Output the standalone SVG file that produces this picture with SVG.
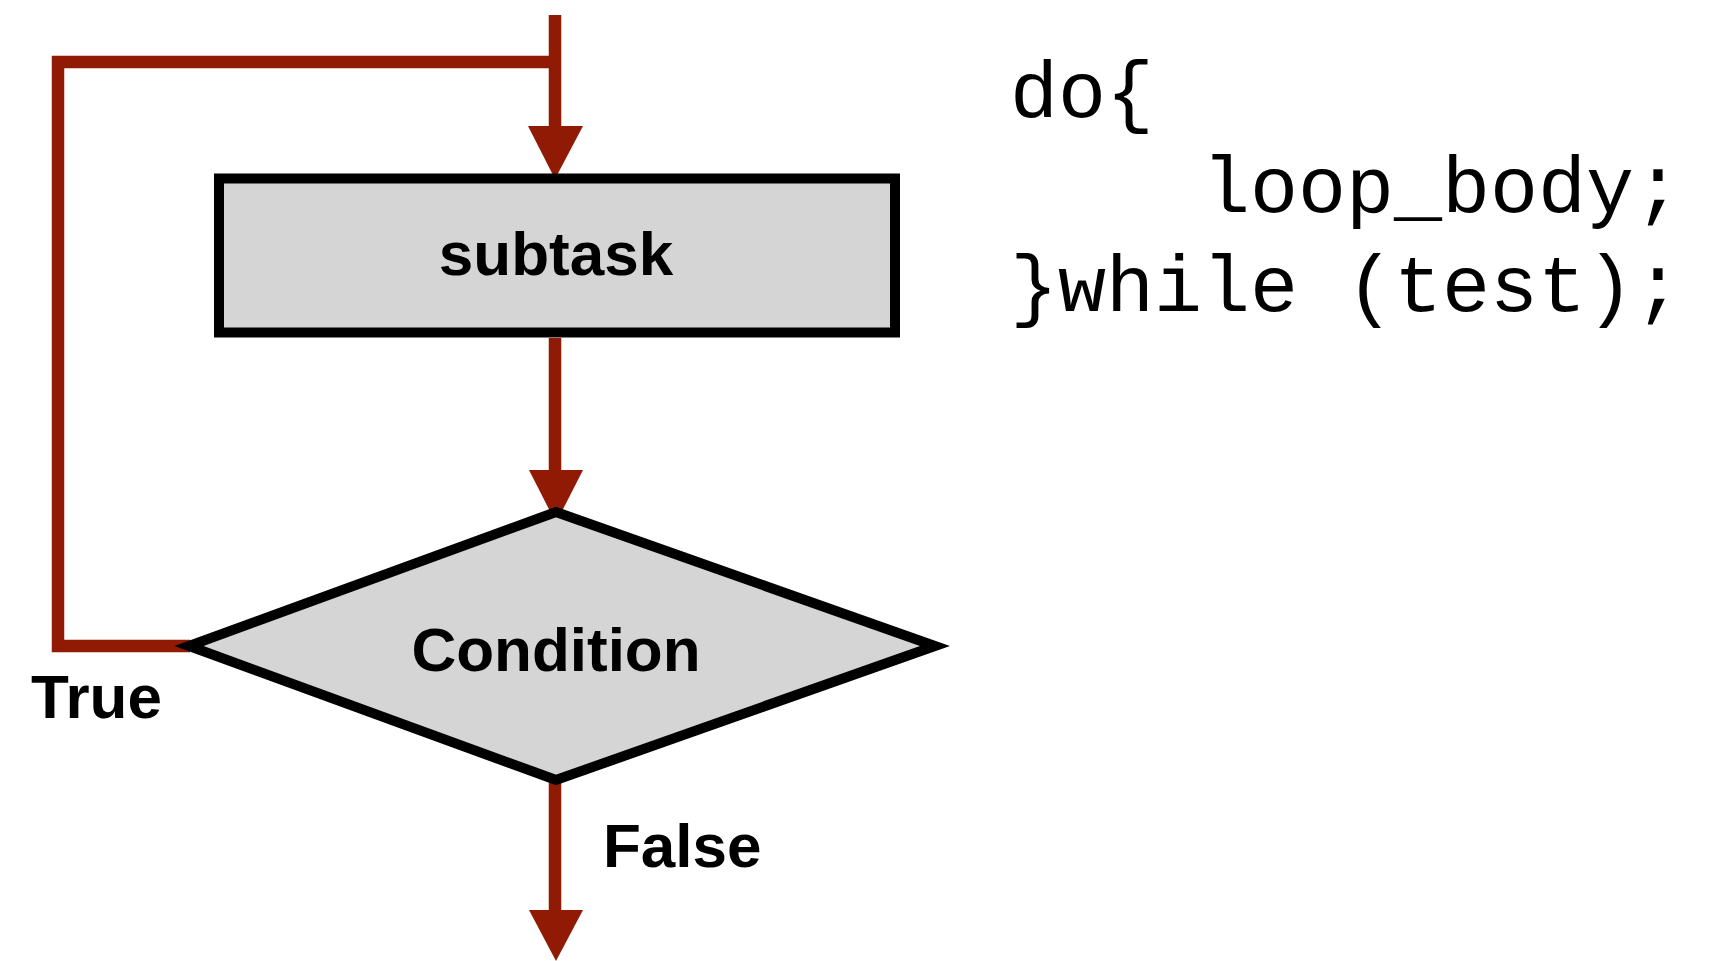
<svg xmlns="http://www.w3.org/2000/svg" width="1710" height="961" viewBox="0 0 1710 961">
<style>
.wire{fill:none;stroke:#911a04;stroke-width:12.5;stroke-linejoin:miter;stroke-linecap:butt}
.head{fill:#911a04;stroke:none}
.box{fill:#d5d5d5;stroke:#000;stroke-width:10}
.lbl{font-family:"Liberation Sans",Arial,sans-serif;font-weight:bold;font-size:62px;fill:#000}
.code{font-family:"Liberation Mono","Courier New",monospace;font-size:80px;fill:#000}
</style>
<rect width="1710" height="961" fill="#fff"/>
<g id="connectors">
<path class="wire" d="M555,15 V128"/>
<path class="wire" d="M555,62 H58 V646 H190"/>
<path class="wire" d="M555,338 V472"/>
<path class="wire" d="M555,780 V912"/>
<polygon class="head" points="528,126 583,126 555,179"/>
<polygon class="head" points="529,470 583,470 556,523"/>
<polygon class="head" points="529,910 583,910 556,961"/>
</g>
<g id="subtask">
<rect class="box" x="219" y="178.5" width="676" height="154"/>
<text class="lbl" x="556" y="275" text-anchor="middle">subtask</text>
</g>
<g id="condition">
<polygon class="box" points="556,512 935,646 556,780 189,646"/>
<text class="lbl" x="556" y="671" text-anchor="middle">Condition</text>
</g>
<g id="labels">
<text class="lbl" x="31" y="718">True</text>
<text class="lbl" x="603" y="867">False</text>
</g>
<g id="code">
<text class="code" x="1010" y="117">do{</text>
<text class="code" x="1202" y="212">loop_body;</text>
<text class="code" x="1010" y="311">}while (test);</text>
</g>
</svg>
